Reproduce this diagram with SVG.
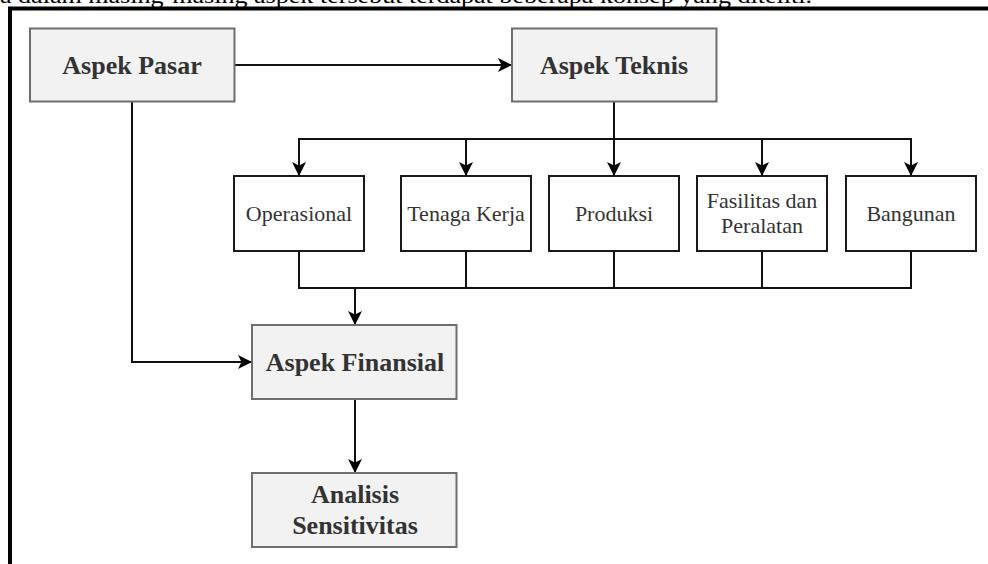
<svg xmlns="http://www.w3.org/2000/svg" width="988" height="564" viewBox="0 0 988 564">
<style>
.gbox{fill:#f2f2f2;stroke:#6e6e6e;stroke-width:2}
.wbox{fill:#ffffff;stroke:#1a1a1a;stroke-width:2}
.bt{font-family:"Liberation Serif","Times New Roman",serif;font-weight:bold;font-size:26px;fill:#333333;text-anchor:middle}
.rt{font-family:"Liberation Serif","Times New Roman",serif;font-size:22px;fill:#333333;text-anchor:middle}
.cn{fill:none;stroke:#111111;stroke-width:2}
.frame{fill:none;stroke:#000000;stroke-width:4}
</style>
<defs>
<marker id="ah" viewBox="0 0 14 14" refX="14" refY="7" markerWidth="14" markerHeight="14" markerUnits="userSpaceOnUse" orient="auto">
<path d="M0,0 L14,7 L0,14 L3.5,7 Z" fill="#000000"/>
</marker>
</defs>
<rect width="988" height="564" fill="#ffffff"/>
<text x="0" y="3" font-family="Liberation Serif, serif" font-size="20" fill="#000000" textLength="812" lengthAdjust="spacingAndGlyphs">a dalam masing-masing aspek tersebut terdapat beberapa konsep yang diteliti.</text>
<path class="frame" d="M10,564 V8.5 H988"/>
<g id="connectors">
<path class="cn" d="M234.5,65 H512" marker-end="url(#ah)"/>
<path class="cn" d="M132,102 V362 H252" marker-end="url(#ah)"/>
<path class="cn" d="M614,102 V176" marker-end="url(#ah)"/>
<path class="cn" d="M614,139 H299 V176" marker-end="url(#ah)"/>
<path class="cn" d="M614,139 H466 V176" marker-end="url(#ah)"/>
<path class="cn" d="M614,139 H762 V176" marker-end="url(#ah)"/>
<path class="cn" d="M614,139 H911 V176" marker-end="url(#ah)"/>
<path class="cn" d="M299,251 V288 H911 V251 M466,251 V288 M614,251 V288 M762,251 V288"/>
<path class="cn" d="M355,288 V325" marker-end="url(#ah)"/>
<path class="cn" d="M355,399 V473" marker-end="url(#ah)"/>
</g>
<g id="aspek-pasar">
<rect class="gbox" x="30" y="28.5" width="204.5" height="73"/>
<text class="bt" x="132" y="73.5">Aspek Pasar</text>
</g>
<g id="aspek-teknis">
<rect class="gbox" x="512" y="28.5" width="204.5" height="73"/>
<text class="bt" x="614" y="73.5">Aspek Teknis</text>
</g>
<g id="operasional">
<rect class="wbox" x="234" y="176" width="130" height="75"/>
<text class="rt" x="299" y="221">Operasional</text>
</g>
<g id="tenaga-kerja">
<rect class="wbox" x="401" y="176" width="130" height="75"/>
<text class="rt" x="466" y="221">Tenaga Kerja</text>
</g>
<g id="produksi">
<rect class="wbox" x="549" y="176" width="130" height="75"/>
<text class="rt" x="614" y="221">Produksi</text>
</g>
<g id="fasilitas">
<rect class="wbox" x="697" y="176" width="130" height="75"/>
<text class="rt" x="762" y="208">Fasilitas dan</text>
<text class="rt" x="762" y="233">Peralatan</text>
</g>
<g id="bangunan">
<rect class="wbox" x="846" y="176" width="130" height="75"/>
<text class="rt" x="911" y="221">Bangunan</text>
</g>
<g id="aspek-finansial">
<rect class="gbox" x="252" y="325" width="204.5" height="74"/>
<text class="bt" x="355" y="370.5">Aspek Finansial</text>
</g>
<g id="analisis-sensitivitas">
<rect class="gbox" x="252" y="473" width="204.5" height="74"/>
<text class="bt" x="355" y="503">Analisis</text>
<text class="bt" x="355" y="534">Sensitivitas</text>
</g>
</svg>
